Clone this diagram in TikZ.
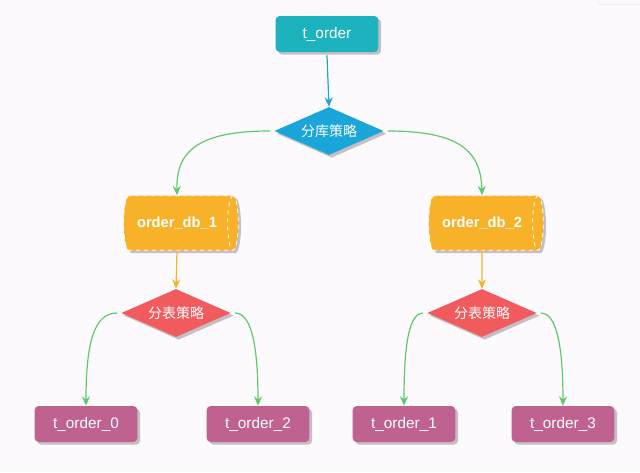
\documentclass[tikz,border=0pt]{standalone}
\usepackage{fontspec}
\setmainfont{Liberation Sans}
\newfontfamily\cjk{Noto Sans CJK SC}
\usetikzlibrary{shapes.geometric,shadows,arrows.meta}
\definecolor{bg}{HTML}{FDFAFD}
\definecolor{teal}{HTML}{1CB3BE}
\definecolor{bluedia}{HTML}{1BA6DA}
\definecolor{orng}{HTML}{F8B22A}
\definecolor{reddia}{HTML}{F25B5D}
\definecolor{purp}{HTML}{C0628F}
\definecolor{grn}{HTML}{5DCB6A}
\definecolor{shd}{HTML}{B8B0B8}
\begin{document}
\begin{tikzpicture}[x=0.75pt,y=-0.75pt,
  shad/.style={drop shadow={shadow xshift=2pt,shadow yshift=-2pt,fill=shd,opacity=0.8}},
  boxnode/.style={rectangle,rounded corners=3pt,minimum width=77pt,minimum height=27pt,text=white,font=\fontsize{11.5}{13}\selectfont,shad},
  dia/.style={diamond,aspect=2.3,minimum width=82pt,minimum height=36pt,inner sep=0pt,text=white,font=\cjk\fontsize{10.5}{12}\selectfont,shad},
  db/.style={cylinder,shape aspect=0.6,minimum width=41pt,minimum height=86pt,draw=white,dashed,line width=0.6pt,fill=orng,text=white,font=\fontsize{11}{13}\selectfont\bfseries,shad,inner sep=2pt},
  arr/.style={-{Stealth[length=7pt,width=6pt]},line width=0.9pt},
  grnarr/.style={arr,draw=grn}
]
\fill[bg] (0,0) rectangle (640,472);
\useasboundingbox (0,0) rectangle (640,472);
\draw[gray!12] (598,0) -- (598,4) -- (640,4);

\node[boxnode,fill=teal] (top) at (327,34) {t\_order};
\node[dia,fill=bluedia] (d1) at (329,131) {分库策略};
\node[db] (db1) at (177,223) {order\_db\_1};
\node[db] (db2) at (482,223) {order\_db\_2};
\node[dia,fill=reddia] (d2) at (176,313) {分表策略};
\node[dia,fill=reddia] (d3) at (482,313) {分表策略};
\node[boxnode,fill=purp] (t0) at (86,424) {t\_order\_0};
\node[boxnode,fill=purp] (t2) at (258,424) {t\_order\_2};
\node[boxnode,fill=purp] (t1) at (404,424) {t\_order\_1};
\node[boxnode,fill=purp] (t3) at (563,424) {t\_order\_3};

\draw[arr,draw=bluedia] (top.south) ++(0,3) -- (d1.north);
\draw[grnarr] (d1.west) ++(-4,0) .. controls (200,131) and (176,150) .. (db1.north);
\draw[grnarr] (d1.east) ++(4,0) .. controls (458,131) and (481,150) .. (db2.north);
\draw[arr,draw=orng] (db1.south) -- (d2.north);
\draw[arr,draw=orng] (db2.south) -- (d3.north);
\draw[grnarr] (d2.west) ++(-4,0) .. controls (95,313) and (86,340) .. (t0.north);
\draw[grnarr] (d2.east) ++(4,0) .. controls (250,313) and (258,340) .. (t2.north);
\draw[grnarr] (d3.west) ++(-4,0) .. controls (410,313) and (404,340) .. (t1.north);
\draw[grnarr] (d3.east) ++(4,0) .. controls (555,313) and (563,340) .. (t3.north);
\end{tikzpicture}
\end{document}
